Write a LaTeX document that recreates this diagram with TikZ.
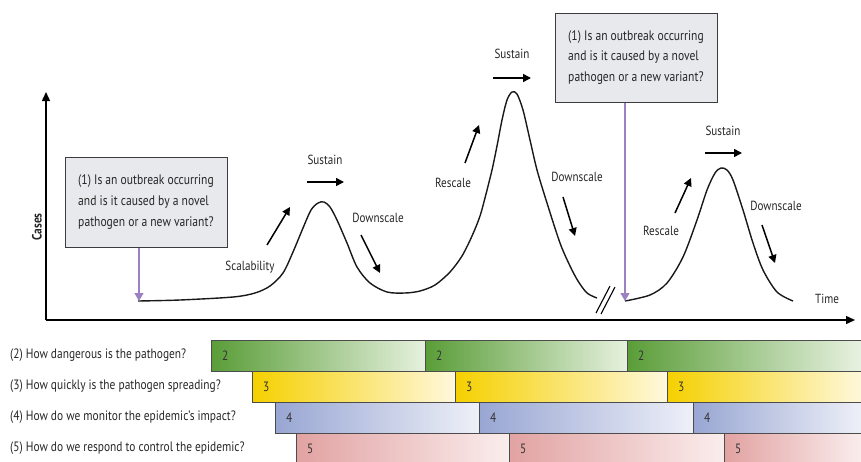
\documentclass[tikz,border=0pt]{standalone}
\usepackage{fontspec}
\setmainfont{PT Sans}[FakeStretch=0.84]
\usetikzlibrary{arrows.meta}
\definecolor{boxfill}{HTML}{E7E9EC}
\definecolor{boxline}{HTML}{3C3C3C}
\definecolor{purp}{HTML}{9B80C2}
\definecolor{gA}{HTML}{5A9D38}\definecolor{gB}{HTML}{E6F1DE}
\definecolor{yA}{HTML}{F5D000}\definecolor{yB}{HTML}{FFF8DC}
\definecolor{bA}{HTML}{98A6D2}\definecolor{bB}{HTML}{EEF0F8}
\definecolor{pA}{HTML}{E2A2A2}\definecolor{pB}{HTML}{FBEDED}
\begin{document}
\begin{tikzpicture}[x=1pt,y=-1pt,
  txt/.style={inner sep=0pt,font=\fontsize{13.2}{15}\selectfont,text=black!85},
  qlab/.style={inner sep=0pt,anchor=west,font=\fontsize{13.6}{15}\selectfont,text=black!85},
  qbox/.style={draw=boxline,fill=boxfill,line width=1pt,minimum width=162pt,minimum height=90pt,
     align=left,inner sep=0pt,font=\fontsize{13.8}{20.7}\selectfont,text=black!85},
  trend/.style={line width=1.5pt,-{Triangle[length=8pt,width=8pt]}},
  purarrow/.style={draw=purp,line width=1.2pt,-{Triangle[length=8pt,width=9pt]}},
  curve/.style={line width=1.4pt,black!90},
  seg/.style={draw=black!70,line width=0.9pt},
  num/.style={inner sep=0pt,font=\fontsize{13.5}{15}\selectfont,text=black!80,anchor=west}]
\useasboundingbox (0,0) rectangle (861,461);
% bars
\foreach \row/\ya/\cA/\cB/\n/\xa/\xb/\xc in
  {0/340/gA/gB/2/211/425/627, 1/371/yA/yB/3/252/455/667, 2/402/bA/bB/4/275/479/693, 3/433/pA/pB/5/296/509/724}{
  \pgfmathsetmacro\yb{\ya+31}
  \draw[seg,left color=\cA,right color=\cB] (\xa,\ya) rectangle (\xb,\yb);
  \draw[seg,left color=\cA,right color=\cB] (\xb,\ya) rectangle (\xc,\yb);
  \draw[seg,left color=\cA,right color=\cB!60!white] (\xc,\ya) rectangle (875,\yb);
  \node[num] (n\n a) at (\xa+11,\ya+15.5) {\n};
  \node[num] (n\n b) at (\xb+11,\ya+15.5) {\n};
  \node[num] (n\n c) at (\xc+11,\ya+15.5) {\n};
}
\node[qlab] (q2) at (10,355.5) {(2) How dangerous is the pathogen?};
\node[qlab] (q3) at (10,386.5) {(3) How quickly is the pathogen spreading?};
\node[qlab] (q4) at (10,417.5) {(4) How do we monitor the epidemic’s impact?};
\node[qlab] (q5) at (10,448.5) {(5) How do we respond to control the epidemic?};
% axes
\coordinate (o) at (46,320);
\coordinate (ytop) at (46,92);
\coordinate (xend) at (855,320);
\draw[line width=1.4pt,-{Triangle[length=9pt,width=8pt]}] (o) -- (ytop);
\draw[line width=1.4pt,-{Triangle[length=9pt,width=8pt]}] (o) -- (xend);
\node[txt,rotate=90,font=\fontsize{13.5}{15}\selectfont\bfseries] (cases) at (37,227) {Cases};
\node[txt] (time) at (827,299) {Time};
% curves
\draw[curve] plot[smooth,tension=0.5] coordinates {(138,301) (180,300) (233,297) (255,293) (270,286) (283,273) (293,252) (303,228) (311,210) (318,203) (324,202) (330,207) (337,220) (347,243) (357,267) (370,283) (387,292) (405,293) (420,291) (435,285) (450,272) (462,256) (472,236) (480,216) (486,194) (492,170) (497,146) (502,120) (507,100) (512,92) (517,94) (523,110) (530,140) (537,170) (547,203) (560,243) (570,266) (578,281) (587,293) (597,298)};
\draw[curve] plot[smooth,tension=0.5] coordinates {(625,301) (650,295) (667,283) (683,257) (697,220) (707,190) (715,173) (721,168) (727,170) (733,180) (743,210) (753,243) (763,270) (777,292) (793,301)};
% break marks
\draw[line width=1.1pt] (596,313) -- (610,286);
\draw[line width=1.1pt] (601,314) -- (615,287);
% boxes
\node[qbox] (b1) at (146,202) {(1) Is an outbreak occurring\\and is it caused by a novel\\pathogen or a new variant?};
\node[qbox,minimum height=89pt] (b2) at (636,57.5) {(1) Is an outbreak occurring\\and is it caused by a novel\\pathogen or a new variant?};
\coordinate (s1) at (139,301);
\coordinate (s2) at (625,301);
\draw[purarrow] (b1.south -| s1) -- (s1);
\draw[purarrow] (b2.south -| s2) -- (s2);
% trend arrows
\coordinate (a1s) at (267,245); \coordinate (a1e) at (290,207);
\coordinate (a2s) at (307,182); \coordinate (a2e) at (344,182);
\coordinate (a3s) at (361,235); \coordinate (a3e) at (380,273);
\coordinate (a4s) at (465,163); \coordinate (a4e) at (479,125);
\coordinate (a5s) at (493,78); \coordinate (a5e) at (531,78);
\coordinate (a6s) at (563,197); \coordinate (a6e) at (575,236);
\coordinate (a7s) at (675,213); \coordinate (a7e) at (691,178);
\coordinate (a8s) at (705,153); \coordinate (a8e) at (742,153);
\coordinate (a9s) at (762,225); \coordinate (a9e) at (775,263);
\foreach \i in {1,...,9}{\draw[trend] (a\i s) -- (a\i e);}
% trend labels
\node[txt] (l1) at (250,267) {Scalability};
\node[txt] (l2) at (325,160) {Sustain};
\node[txt] (l3) at (378,218) {Downscale};
\node[txt] (l4) at (453,183) {Rescale};
\node[txt] (l5) at (512,54) {Sustain};
\node[txt] (l6) at (577,177) {Downscale};
\node[txt] (l7) at (661,231) {Rescale};
\node[txt] (l8) at (723,131) {Sustain};
\node[txt] (l9) at (776,206) {Downscale};
\end{tikzpicture}
\end{document}
